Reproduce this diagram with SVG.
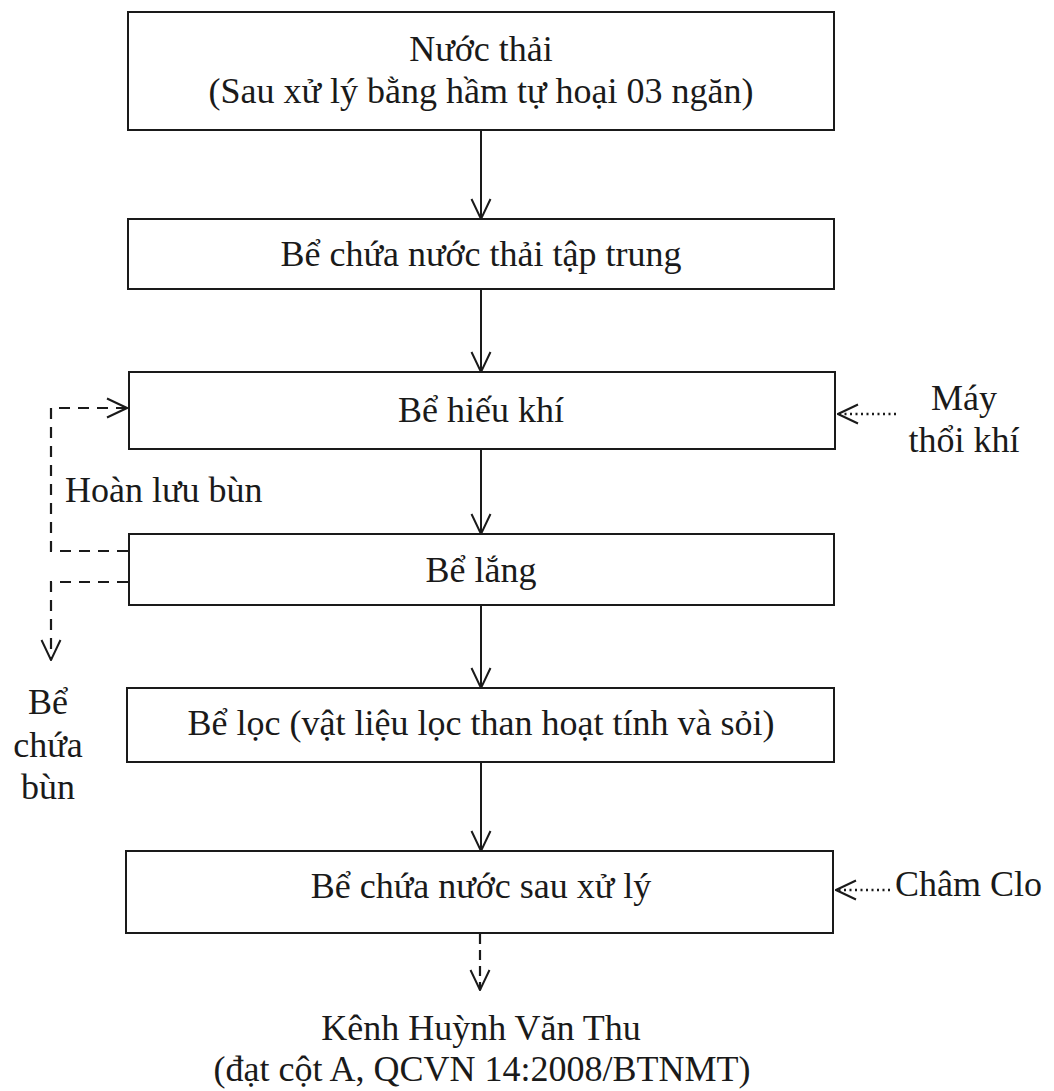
<svg xmlns="http://www.w3.org/2000/svg" width="1054" height="1091" viewBox="0 0 1054 1091">
<style>
.box{fill:#fff;stroke:#1a1a1a;stroke-width:2}
.t{font-family:"Liberation Serif","Times New Roman",serif;font-size:36px;fill:#1a1a1a}
.c{text-anchor:middle}
.ln{fill:none;stroke:#1a1a1a;stroke-width:2}
.dash{fill:none;stroke:#1a1a1a;stroke-width:2.2;stroke-dasharray:11 8}
.dash2{fill:none;stroke:#1a1a1a;stroke-width:2.2;stroke-dasharray:10 6}
.dot{fill:none;stroke:#1a1a1a;stroke-width:2.4;stroke-dasharray:2 3.5}
</style>
<defs>
<marker id="ah" viewBox="0 0 22 22" refX="21" refY="11" markerWidth="22" markerHeight="22" markerUnits="userSpaceOnUse" orient="auto">
<path d="M1,1.5 L21,11 L1,20.5" fill="none" stroke="#1a1a1a" stroke-width="2"/>
</marker>
</defs>
<rect width="1054" height="1091" fill="#fff"/>
<g id="connectors">
<line class="ln" x1="481" y1="130" x2="481" y2="219" marker-end="url(#ah)"/>
<line class="ln" x1="481" y1="289" x2="481" y2="372" marker-end="url(#ah)"/>
<line class="ln" x1="481" y1="449" x2="481" y2="534" marker-end="url(#ah)"/>
<line class="ln" x1="481" y1="605" x2="481" y2="688" marker-end="url(#ah)"/>
<line class="ln" x1="481" y1="762" x2="481" y2="851" marker-end="url(#ah)"/>
<line class="dash2" x1="480" y1="934" x2="480" y2="990" marker-end="url(#ah)"/>
<path class="dash" d="M128,551 H51 V408 H127" marker-end="url(#ah)"/>
<path class="dash" d="M128,582 H51 V660" marker-end="url(#ah)"/>
<line class="dot" x1="896" y1="414" x2="838" y2="414" marker-end="url(#ah)"/>
<line class="dot" x1="890" y1="890" x2="836" y2="890" marker-end="url(#ah)"/>
</g>
<g id="n1">
<rect class="box" x="128" y="12" width="706" height="118"/>
<text class="t c" x="481" y="61">Nước thải</text>
<text class="t c" x="481" y="103">(Sau xử lý bằng hầm tự hoại 03 ngăn)</text>
</g>
<g id="n2">
<rect class="box" x="128" y="219" width="706" height="70"/>
<text class="t c" x="481" y="266">Bể chứa nước thải tập trung</text>
</g>
<g id="n3">
<rect class="box" x="129" y="372" width="706" height="77"/>
<text class="t c" x="481" y="422">Bể hiếu khí</text>
</g>
<g id="n4">
<rect class="box" x="129" y="534" width="705" height="71"/>
<text class="t c" x="481" y="582">Bể lắng</text>
</g>
<g id="n5">
<rect class="box" x="127" y="688" width="707" height="74"/>
<text class="t c" x="481" y="735">Bể lọc (vật liệu lọc than hoạt tính và sỏi)</text>
</g>
<g id="n6">
<rect class="box" x="126" y="851" width="707" height="82"/>
<text class="t c" x="481" y="898">Bể chứa nước sau xử lý</text>
</g>
<g id="outlet">
<text class="t c" x="481" y="1040">Kênh Huỳnh Văn Thu</text>
<text class="t c" x="482" y="1081">(đạt cột A, QCVN 14:2008/BTNMT)</text>
</g>
<g id="blower">
<text class="t c" x="964" y="410">Máy</text>
<text class="t c" x="964" y="452">thổi khí</text>
</g>
<g id="chlorine">
<text class="t" x="895" y="896">Châm Clo</text>
</g>
<g id="return-label">
<text class="t" x="65" y="502">Hoàn lưu bùn</text>
</g>
<g id="sludge-tank">
<text class="t c" x="48" y="714">Bể</text>
<text class="t c" x="48" y="757">chứa</text>
<text class="t c" x="48" y="799">bùn</text>
</g>
</svg>
